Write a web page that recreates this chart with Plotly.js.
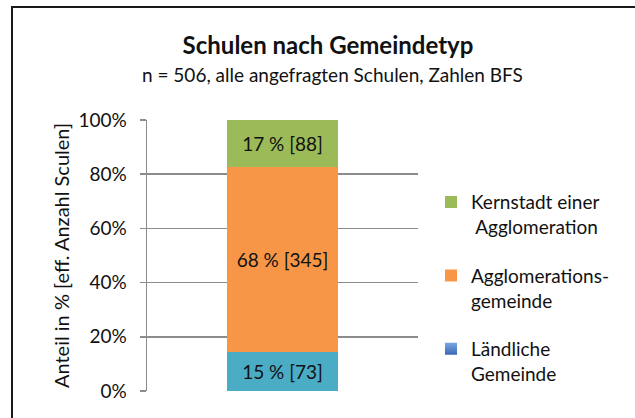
<!DOCTYPE html>
<html>
<head>
<meta charset="utf-8">
<script src="https://cdn.plot.ly/plotly-3.0.1.min.js"></script>
<style>
  html, body { margin: 0; padding: 0; background: #fff; }
  #wrap { position: relative; width: 635px; height: 418px; overflow: hidden; }
  #chart { position: absolute; left: 0; top: 0; width: 635px; height: 418px; }
  #frame { position: absolute; left: 11px; top: 6px; width: 700px; height: 500px;
           border-left: 2px solid #1a1a1a; border-top: 2px solid #1a1a1a; pointer-events: none; }
</style>
</head>
<body>
<div id="wrap"><div id="chart"></div><div id="frame"></div></div>
<script>
// Data
const category = ['Schulen'];
const seriesNames = ['Ländliche Gemeinde', 'Agglomerationsgemeinde', 'Kernstadt einer Agglomeration'];
const legendLabels = ['Ländliche<br>Gemeinde', 'Agglomerations-<br>gemeinde', 'Kernstadt einer<br>\u00a0Agglomeration'];
const counts = [73, 345, 88];
const percentLabels = ['15 %', '68 %', '17 %'];
const yTickVals = [0, 20, 40, 60, 80, 100];

// Styles
const barColors = ['#4BACC6', '#F79646', '#9BBB59'];
const legendColors = ['#79A7E2', '#F79646', '#9BBB59'];
const legendGradient = ['#3A67B2', '#F79646', '#9BBB59'];
const FONT = 'Lato, "Open Sans", sans-serif';
const FS = 19;

const traces = [];
for (let i = 0; i < seriesNames.length; i++) {
  traces.push({
    type: 'bar',
    name: seriesNames[i],
    x: category,
    y: [counts[i]],
    text: [percentLabels[i] + ' [' + counts[i] + ']'],
    texttemplate: '%{text}',
    textposition: 'inside',
    insidetextanchor: 'middle',
    textangle: 0,
    constraintext: 'none',
    textfont: { family: FONT, size: FS, color: '#111' },
    marker: { color: barColors[i], line: { width: 0 } },
    showlegend: false,
    hoverinfo: 'skip'
  });
}
// Legend entries (top to bottom: Kernstadt, Agglomeration, Ländlich)
for (let i = 0; i < seriesNames.length; i++) {
  traces.push({
    type: 'scatter',
    mode: 'markers',
    name: legendLabels[i],
    legendgroup: 'g' + i,
    legendrank: 100 - i,
    x: [null],
    y: [null],
    marker: {
      symbol: 'square', size: 12, color: legendColors[i],
      gradient: { type: i === 0 ? 'vertical' : 'none', color: legendGradient[i] }
    },
    showlegend: true
  });
}

const layout = {
  width: 635,
  height: 418,
  paper_bgcolor: '#ffffff',
  plot_bgcolor: '#ffffff',
  margin: { l: 147, r: 217, t: 119.5, b: 26.5, pad: 0 },
  barmode: 'stack',
  barnorm: 'percent',
  bargap: 0.59,
  font: { family: FONT, size: FS, color: '#111' },
  title: {
    text: '<b>Schulen nach Gemeindetyp</b>',
    font: { family: FONT, size: 24, color: '#111' },
    x: 328 / 635, xref: 'container', xanchor: 'center',
    y: 1 - 46 / 418, yref: 'container', yanchor: 'middle'
  },
  annotations: [{
    text: 'n = 506, alle angefragten Schulen, Zahlen BFS',
    xref: 'paper', yref: 'paper',
    x: (332 - 147) / 271, y: (391.7 - 74) / 272.2,
    xanchor: 'center', yanchor: 'middle',
    showarrow: false,
    font: { family: FONT, size: FS, color: '#111' }
  }],
  xaxis: {
    type: 'category',
    showticklabels: false,
    showgrid: false,
    zeroline: false,
    showline: false,
    ticks: '',
    fixedrange: true
  },
  yaxis: {
    range: [0, 100],
    tickvals: yTickVals,
    ticktext: yTickVals.map(v => v + '%'),
    ticks: 'outside',
    ticklen: 6,
    tickwidth: 1.5,
    tickcolor: '#8c8c8c',
    ticklabelstandoff: 9,
    tickfont: { family: FONT, size: FS, color: '#111' },
    showgrid: true,
    gridcolor: '#8c8c8c',
    gridwidth: 1.5,
    zeroline: false,
    showline: true,
    linecolor: '#8c8c8c',
    linewidth: 1.5,
    title: {
      text: 'Anteil in % [eff. Anzahl Sculen]',
      font: { family: FONT, size: 20, color: '#111' },
      standoff: 3
    },
    fixedrange: true
  },
  legend: {
    x: (431 - 147) / 271,
    y: (391.7 - 183) / 272.2,
    xanchor: 'left',
    yanchor: 'top',
    xref: 'paper', yref: 'paper',
    valign: 'top',
    tracegroupgap: 21,
    traceorder: 'grouped',
    font: { family: FONT, size: FS, color: '#111' },
    bgcolor: 'rgba(0,0,0,0)',
    borderwidth: 0
  },
  showlegend: true
};

Plotly.newPlot('chart', traces, layout, { displayModeBar: false, staticPlot: true });
</script>
</body>
</html>
